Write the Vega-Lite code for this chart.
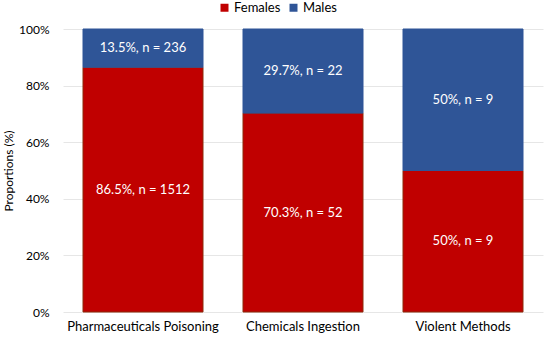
{
  "$schema": "https://vega.github.io/schema/vega-lite/v6.json",
  "width": 480,
  "height": 283,
  "autosize": {"type": "none"},
  "padding": {"left": 63, "top": 29, "right": 7, "bottom": 28},
  "background": "white",
  "config": {"view": {"stroke": null}, "font": "Lato"},
  "data": {"values": [
    {"cat": "Pharmaceuticals Poisoning", "sex": "Females", "ord": 1, "pct": 86.5, "label": "86.5%, n = 1512"},
    {"cat": "Pharmaceuticals Poisoning", "sex": "Males", "ord": 2, "pct": 13.5, "label": "13.5%, n = 236"},
    {"cat": "Chemicals Ingestion", "sex": "Females", "ord": 1, "pct": 70.3, "label": "70.3%, n = 52"},
    {"cat": "Chemicals Ingestion", "sex": "Males", "ord": 2, "pct": 29.7, "label": "29.7%, n = 22"},
    {"cat": "Violent Methods", "sex": "Females", "ord": 1, "pct": 50, "label": "50%, n = 9"},
    {"cat": "Violent Methods", "sex": "Males", "ord": 2, "pct": 50, "label": "50%, n = 9"}
  ]},
  "transform": [
    {"stack": "pct", "groupby": ["cat"], "sort": [{"field": "ord"}], "offset": "normalize", "as": ["y0", "y1"]},
    {"calculate": "(datum.y0 + datum.y1) / 2", "as": "mid"}
  ],
  "encoding": {
    "x": {"field": "cat", "type": "nominal", "sort": null,
      "scale": {"paddingInner": 0.25, "paddingOuter": 0.125},
      "axis": {"title": null, "labelAngle": 0, "ticks": false, "domain": false, "labelFontSize": 13, "labelColor": "#000000", "labelPadding": 8}}
  },
  "layer": [
    {
      "mark": {"type": "bar"},
      "encoding": {
        "y": {"field": "y1", "type": "quantitative",
          "scale": {"domain": [0, 1]},
          "axis": {"format": "%", "values": [0, 0.2, 0.4, 0.6, 0.8, 1], "title": "Proportions (%)", "titleFontSize": 12, "titleFontWeight": "normal", "titleColor": "#000000", "titlePadding": 3,
            "labelFontSize": 12, "labelColor": "#000000", "ticks": false, "domain": false, "gridColor": "#E6E6E6", "labelPadding": 14}},
        "y2": {"field": "y0"},
        "color": {"field": "sex", "type": "nominal",
          "scale": {"domain": ["Females", "Males"], "range": ["#C00000", "#2F5597"]},
          "legend": {"title": null, "orient": "none", "legendX": 155, "legendY": -28, "direction": "horizontal", "symbolType": "square", "symbolSize": 64, "symbolStrokeWidth": 0, "labelFontSize": 13, "labelColor": "#000000", "labelOffset": 3, "columnPadding": 6}},
        "stroke": {"field": "sex", "type": "nominal", "scale": {"domain": ["Females", "Males"], "range": ["#8B2A0A", "#2F5597"]}, "legend": null}
      }
    },
    {
      "mark": {"type": "text", "color": "#FFFFFF", "fontSize": 13, "baseline": "middle"},
      "encoding": {
        "y": {"field": "mid", "type": "quantitative"},
        "text": {"field": "label"}
      }
    }
  ]
}
